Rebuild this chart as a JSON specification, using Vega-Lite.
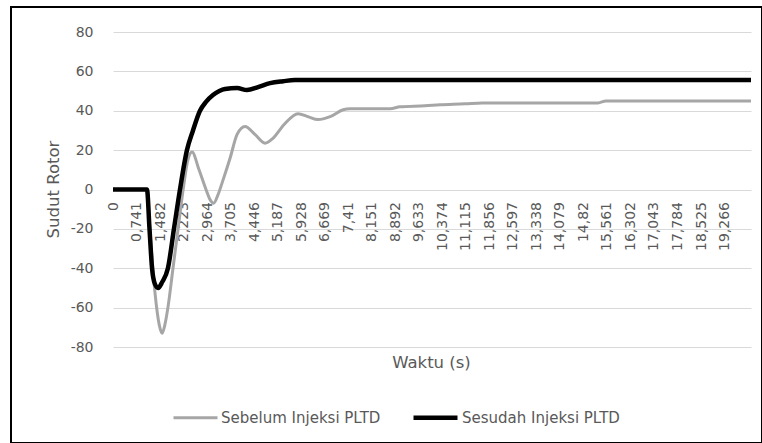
{
  "$schema": "https://vega.github.io/schema/vega-lite/v6.json",
  "width": 751,
  "height": 436,
  "autosize": "none",
  "padding": {"left": 11, "top": 7, "right": 0, "bottom": 0},
  "background": "white",
  "config": {
    "font": "DejaVu Sans",
    "view": {"stroke": "#000000", "strokeWidth": 2}
  },
  "data": {
    "values": [
      {"t": 0, "v": 0, "s": "Sebelum Injeksi PLTD"},
      {"t": 1.07, "v": 0, "s": "Sebelum Injeksi PLTD"},
      {"t": 1.17, "v": -22, "s": "Sebelum Injeksi PLTD"},
      {"t": 1.32, "v": -52, "s": "Sebelum Injeksi PLTD"},
      {"t": 1.46, "v": -69, "s": "Sebelum Injeksi PLTD"},
      {"t": 1.55, "v": -73, "s": "Sebelum Injeksi PLTD"},
      {"t": 1.63, "v": -69, "s": "Sebelum Injeksi PLTD"},
      {"t": 1.73, "v": -60, "s": "Sebelum Injeksi PLTD"},
      {"t": 1.89, "v": -40, "s": "Sebelum Injeksi PLTD"},
      {"t": 2.05, "v": -20, "s": "Sebelum Injeksi PLTD"},
      {"t": 2.21, "v": 0, "s": "Sebelum Injeksi PLTD"},
      {"t": 2.36, "v": 15, "s": "Sebelum Injeksi PLTD"},
      {"t": 2.49, "v": 19, "s": "Sebelum Injeksi PLTD"},
      {"t": 2.71, "v": 10, "s": "Sebelum Injeksi PLTD"},
      {"t": 2.93, "v": 0, "s": "Sebelum Injeksi PLTD"},
      {"t": 3.05, "v": -5, "s": "Sebelum Injeksi PLTD"},
      {"t": 3.17, "v": -7, "s": "Sebelum Injeksi PLTD"},
      {"t": 3.3, "v": -3, "s": "Sebelum Injeksi PLTD"},
      {"t": 3.45, "v": 4, "s": "Sebelum Injeksi PLTD"},
      {"t": 3.69, "v": 16, "s": "Sebelum Injeksi PLTD"},
      {"t": 3.91, "v": 28, "s": "Sebelum Injeksi PLTD"},
      {"t": 4.16, "v": 32, "s": "Sebelum Injeksi PLTD"},
      {"t": 4.47, "v": 28, "s": "Sebelum Injeksi PLTD"},
      {"t": 4.79, "v": 23.5, "s": "Sebelum Injeksi PLTD"},
      {"t": 5.04, "v": 26, "s": "Sebelum Injeksi PLTD"},
      {"t": 5.39, "v": 33, "s": "Sebelum Injeksi PLTD"},
      {"t": 5.83, "v": 38.5, "s": "Sebelum Injeksi PLTD"},
      {"t": 6.14, "v": 37, "s": "Sebelum Injeksi PLTD"},
      {"t": 6.46, "v": 35.5, "s": "Sebelum Injeksi PLTD"},
      {"t": 6.84, "v": 37, "s": "Sebelum Injeksi PLTD"},
      {"t": 7.25, "v": 40.5, "s": "Sebelum Injeksi PLTD"},
      {"t": 7.47, "v": 41, "s": "Sebelum Injeksi PLTD"},
      {"t": 8.73, "v": 41, "s": "Sebelum Injeksi PLTD"},
      {"t": 9.04, "v": 42, "s": "Sebelum Injeksi PLTD"},
      {"t": 9.83, "v": 42.5, "s": "Sebelum Injeksi PLTD"},
      {"t": 10.3, "v": 43, "s": "Sebelum Injeksi PLTD"},
      {"t": 11.09, "v": 43.5, "s": "Sebelum Injeksi PLTD"},
      {"t": 11.63, "v": 44, "s": "Sebelum Injeksi PLTD"},
      {"t": 15.28, "v": 44, "s": "Sebelum Injeksi PLTD"},
      {"t": 15.53, "v": 45, "s": "Sebelum Injeksi PLTD"},
      {"t": 20.1, "v": 45, "s": "Sebelum Injeksi PLTD"},
      {"t": 0, "v": 0, "s": "Sesudah Injeksi PLTD"},
      {"t": 1.07, "v": 0, "s": "Sesudah Injeksi PLTD"},
      {"t": 1.15, "v": -20, "s": "Sesudah Injeksi PLTD"},
      {"t": 1.23, "v": -40, "s": "Sesudah Injeksi PLTD"},
      {"t": 1.32, "v": -48, "s": "Sesudah Injeksi PLTD"},
      {"t": 1.42, "v": -50, "s": "Sesudah Injeksi PLTD"},
      {"t": 1.55, "v": -47, "s": "Sesudah Injeksi PLTD"},
      {"t": 1.73, "v": -40, "s": "Sesudah Injeksi PLTD"},
      {"t": 1.92, "v": -20, "s": "Sesudah Injeksi PLTD"},
      {"t": 2.11, "v": 0, "s": "Sesudah Injeksi PLTD"},
      {"t": 2.33, "v": 20, "s": "Sesudah Injeksi PLTD"},
      {"t": 2.52, "v": 30, "s": "Sesudah Injeksi PLTD"},
      {"t": 2.74, "v": 40, "s": "Sesudah Injeksi PLTD"},
      {"t": 2.93, "v": 44.5, "s": "Sesudah Injeksi PLTD"},
      {"t": 3.15, "v": 48, "s": "Sesudah Injeksi PLTD"},
      {"t": 3.35, "v": 50, "s": "Sesudah Injeksi PLTD"},
      {"t": 3.53, "v": 51, "s": "Sesudah Injeksi PLTD"},
      {"t": 3.91, "v": 51.5, "s": "Sesudah Injeksi PLTD"},
      {"t": 4.22, "v": 50.5, "s": "Sesudah Injeksi PLTD"},
      {"t": 4.57, "v": 52, "s": "Sesudah Injeksi PLTD"},
      {"t": 4.95, "v": 54, "s": "Sesudah Injeksi PLTD"},
      {"t": 5.36, "v": 55, "s": "Sesudah Injeksi PLTD"},
      {"t": 5.73, "v": 55.6, "s": "Sesudah Injeksi PLTD"},
      {"t": 20.1, "v": 55.6, "s": "Sesudah Injeksi PLTD"}
    ]
  },
  "mark": {"type": "line", "interpolate": "monotone"},
  "encoding": {
    "x": {
      "field": "t",
      "type": "quantitative",
      "scale": {"domain": [0, 20.1], "range": [102, 740], "nice": false, "zero": false},
      "axis": {
        "orient": "bottom",
        "offset": -253.5,
        "values": [0, 0.741, 1.482, 2.223, 2.964, 3.705, 4.446, 5.187, 5.928, 6.669, 7.41, 8.151, 8.892, 9.633, 10.374, 11.115, 11.856, 12.597, 13.338, 14.079, 14.82, 15.561, 16.302, 17.043, 17.784, 18.525, 19.266],
        "labelExpr": "replace(format(datum.value, '.3~f'), '.', ',')",
        "labelAngle": 270,
        "labelAlign": "right",
        "labelBaseline": "middle",
        "labelPadding": 12,
        "labelFontSize": 14,
        "labelColor": "#595959",
        "labelOverlap": false,
        "labelFlush": false,
        "labelBound": false,
        "grid": false,
        "domain": false,
        "ticks": false,
        "tickSize": 0,
        "title": "Waktu (s)",
        "titleX": 420,
        "titleY": 172.5,
        "titleAlign": "center",
        "titleBaseline": "middle",
        "titleFontSize": 16.5,
        "titleFontWeight": "normal",
        "titleColor": "#595959"
      }
    },
    "y": {
      "field": "v",
      "type": "quantitative",
      "scale": {"domain": [-80, 80], "range": [340, 25], "nice": false, "zero": false},
      "axis": {
        "orient": "left",
        "offset": -101,
        "values": [-80, -60, -40, -20, 0, 20, 40, 60, 80],
        "labelExpr": "toString(datum.value)",
        "grid": true,
        "gridColor": "#d9d9d9",
        "gridWidth": 1,
        "domain": false,
        "ticks": false,
        "tickSize": 0,
        "labelPadding": 19,
        "labelFontSize": 14,
        "labelColor": "#595959",
        "labelFlush": false,
        "title": "Sudut Rotor",
        "titleX": -59,
        "titleY": 182,
        "titleAngle": 270,
        "titleAlign": "center",
        "titleBaseline": "middle",
        "titleFontSize": 16.5,
        "titleFontWeight": "normal",
        "titleColor": "#595959"
      }
    },
    "color": {
      "field": "s",
      "type": "nominal",
      "scale": {"domain": ["Sebelum Injeksi PLTD", "Sesudah Injeksi PLTD"], "range": ["#a6a6a6", "#000000"]},
      "legend": {
        "orient": "none",
        "legendX": 161,
        "legendY": 386,
        "direction": "horizontal",
        "title": null,
        "symbolType": "stroke",
        "symbolSize": 1936,
        "labelFontSize": 15,
        "labelColor": "#595959",
        "labelOffset": 2,
        "columnPadding": 23
      }
    },
    "strokeWidth": {
      "field": "s",
      "type": "nominal",
      "scale": {"domain": ["Sebelum Injeksi PLTD", "Sesudah Injeksi PLTD"], "range": [3, 4.5]},
      "legend": {
        "orient": "none",
        "legendX": 161,
        "legendY": 386,
        "direction": "horizontal",
        "title": null,
        "symbolType": "stroke",
        "symbolSize": 1936,
        "labelFontSize": 15,
        "labelColor": "#595959",
        "labelOffset": 2,
        "columnPadding": 23
      }
    }
  }
}
